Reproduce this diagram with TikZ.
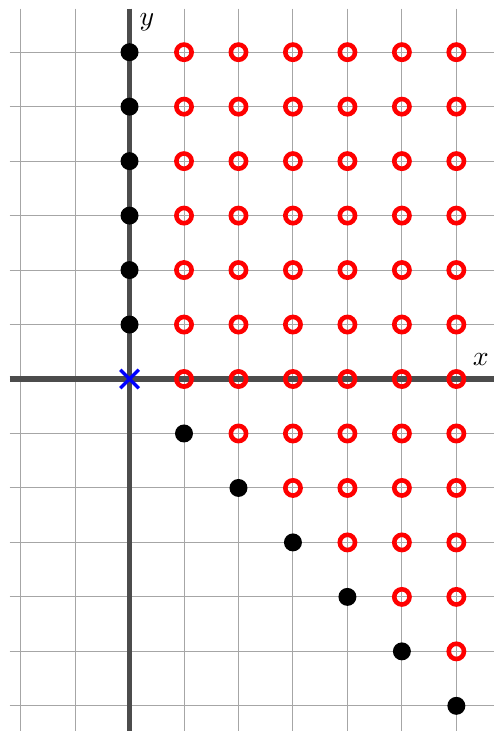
\documentclass[tikz,border=0pt]{standalone}
\usetikzlibrary{calc}
\begin{document}
\begin{tikzpicture}[x=1cm,y=1cm,
  gridline/.style={gray!70,line width=0.5pt},
  axisline/.style={black!70,line width=3pt},
  blackdot/.style={circle,fill=black,inner sep=0pt,minimum size=0.33cm},
  redring/.style={circle,draw=red,line width=2.4pt,inner sep=0pt,minimum size=0.28cm},
  bluecross/.style={blue,line width=1.8pt},
  axlabel/.style={inner sep=0pt,scale=1.45}]
\useasboundingbox (-2.378,-6.462) rectangle (6.674,6.958);
% grid
\foreach \i in {-2,...,6} \draw[gridline] (\i,6.8) -- (\i,-6.6);
\foreach \j in {-6,...,6} \draw[gridline] (-2.2,\j) -- (6.8,\j);
% axes
\draw[axisline] (-2.2,0) -- (6.8,0);
\draw[axisline] (0,6.8) -- (0,-6.6);
\node[axlabel] (xl) at (6.45,0.35) {$x$};
\node[axlabel] (yl) at (0.32,6.55) {$y$};
% black dots on y axis
\foreach \j in {1,...,6} \node[blackdot] (b0\j) at (0,\j) {};
% black dots on diagonal
\foreach \k in {1,...,6} \node[blackdot] (d\k) at (\k,-\k) {};
% red rings
\foreach \i in {1,...,6} {
  \pgfmathtruncatemacro{\lo}{1-\i}
  \foreach \j in {\lo,...,6} \node[redring] (r\i\j) at (\i,\j) {};
}
% blue cross at origin
\coordinate (o) at (0,0);
\draw[bluecross] ($(o)+(-0.17,-0.17)$) -- ($(o)+(0.17,0.17)$);
\draw[bluecross] ($(o)+(-0.17,0.17)$) -- ($(o)+(0.17,-0.17)$);
\end{tikzpicture}
\end{document}
